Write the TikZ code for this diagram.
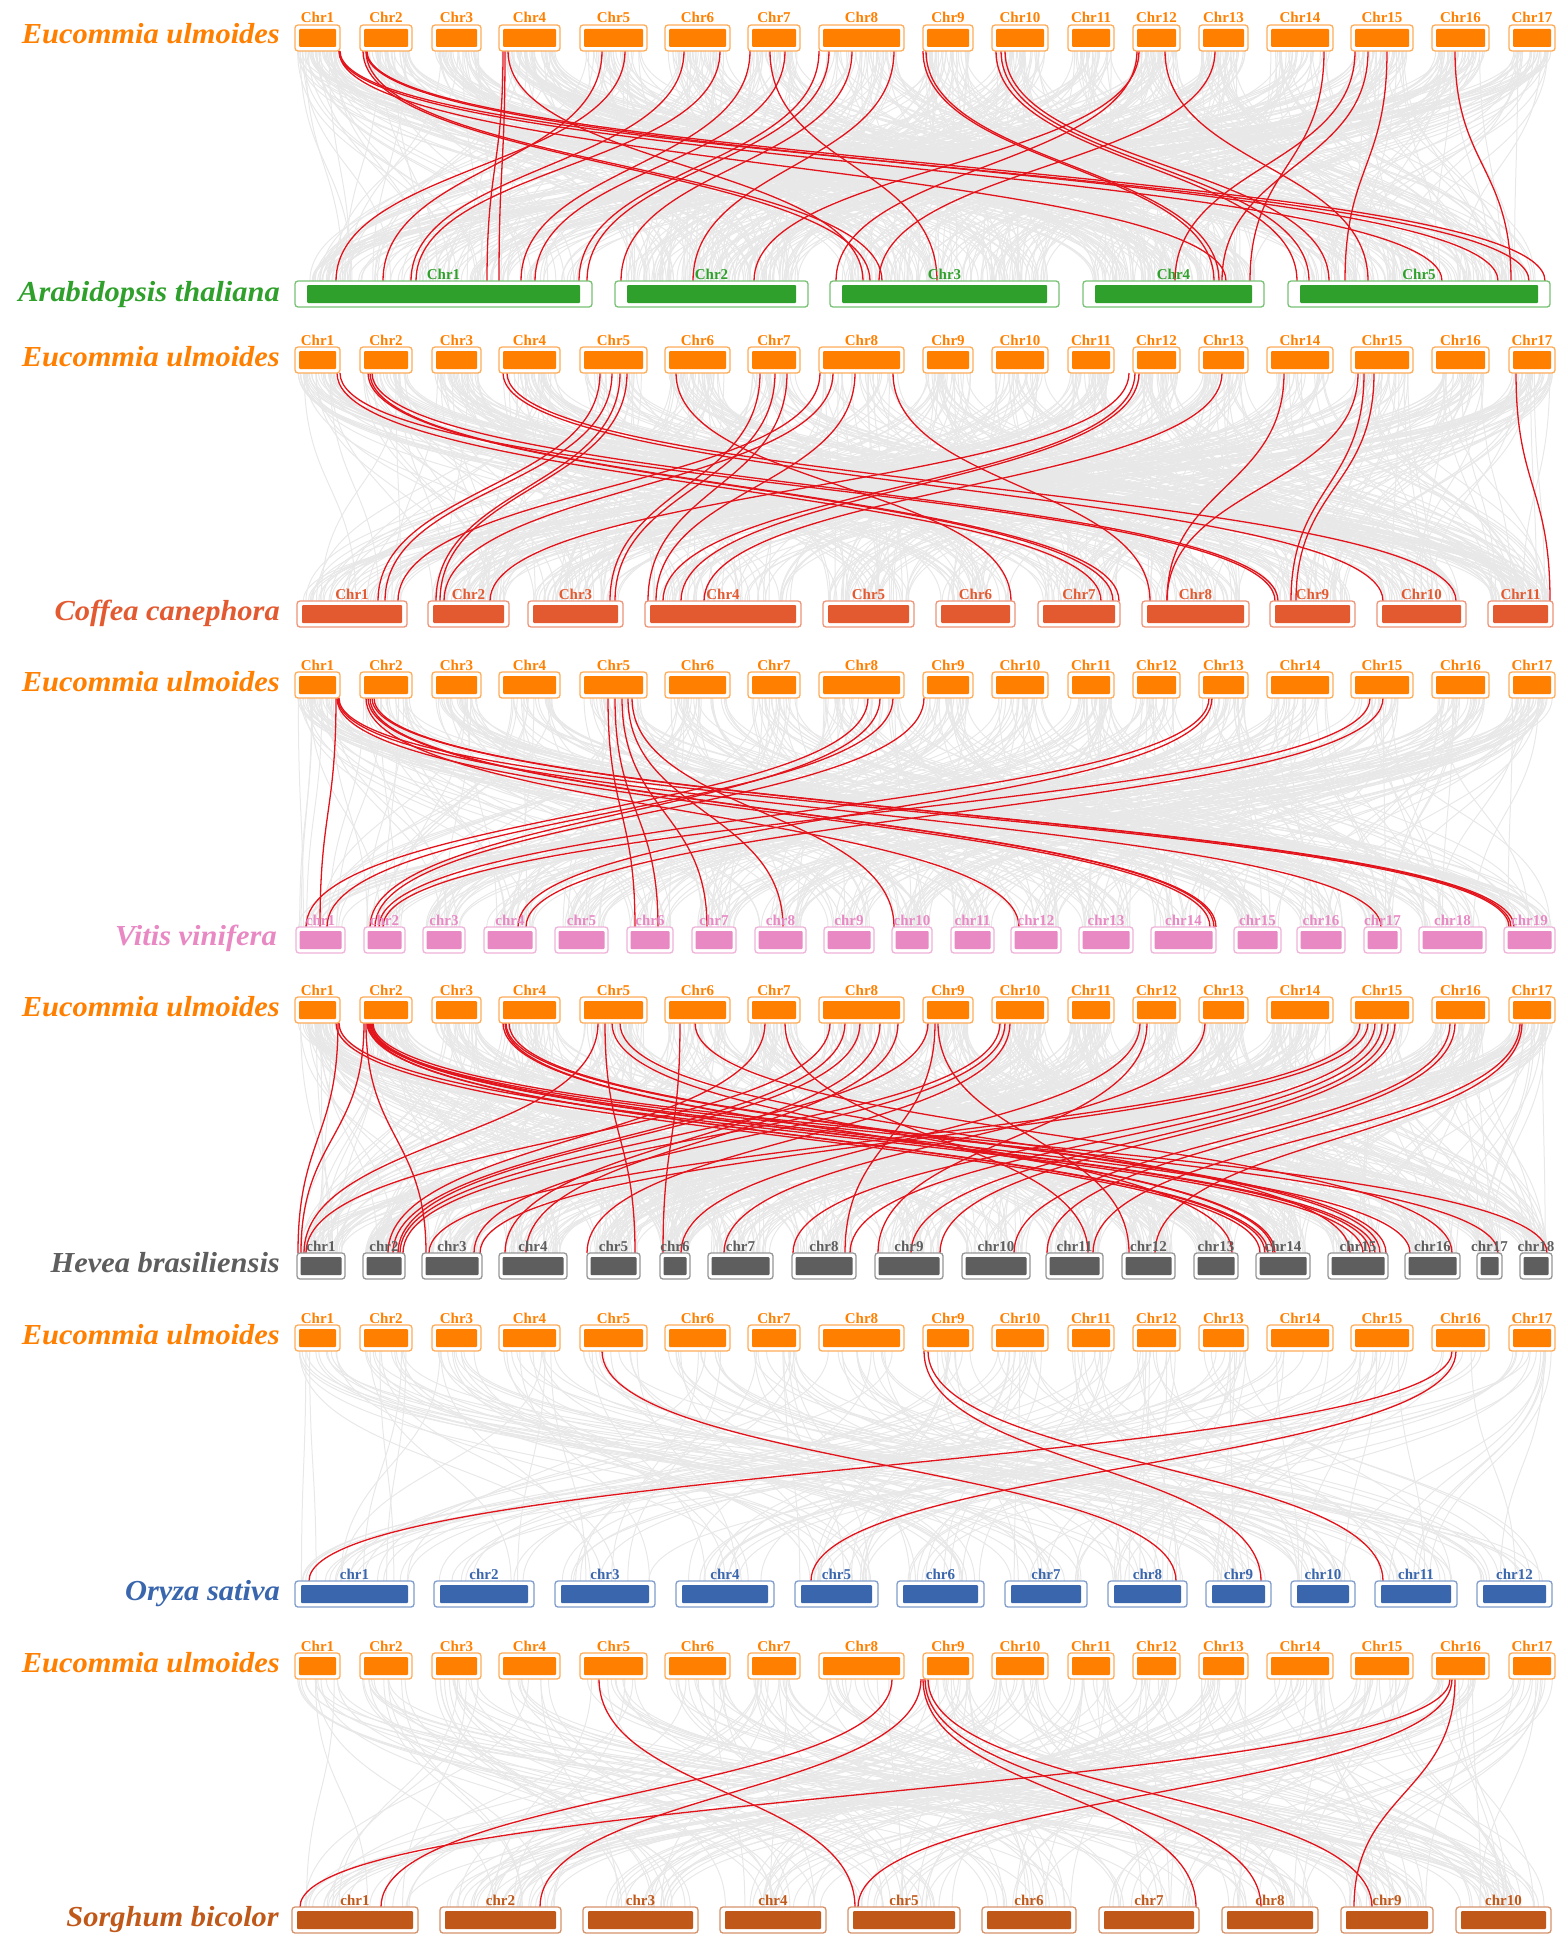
\documentclass[tikz,border=0pt]{standalone}
\usepackage{fontspec}
\setmainfont{Liberation Serif}
\usetikzlibrary{calc}
\definecolor{colEu}{HTML}{FF7F00}
\definecolor{colAt}{HTML}{2FA02B}
\definecolor{colCc}{HTML}{E35A31}
\definecolor{colVv}{HTML}{E889C4}
\definecolor{colHb}{HTML}{5E5E5E}
\definecolor{colOs}{HTML}{3A66AD}
\definecolor{colSb}{HTML}{C0581A}
\definecolor{colRed}{HTML}{E3131B}
\definecolor{colGray}{HTML}{E8E8E8}
\pgfdeclarelayer{glayer}
\pgfdeclarelayer{rlayer}
\pgfsetlayers{glayer,rlayer,main}
\tikzset{
 chrout/.style={draw=#1!65!white, line width=1.3pt, rounded corners=3pt, fill=white, minimum height=26pt, inner sep=0pt, outer sep=0pt},
 chrlab/.style={font=\fontsize{15}{16}\selectfont\bfseries, inner sep=0pt},
 splab/.style={font=\fontsize{29}{32}\selectfont\bfseries\itshape, inner sep=0pt, anchor=base east},
 redlink/.style={draw=colRed, line width=1.3pt},
 graylink/.style={draw=colGray, line width=1pt},
}
% #1 prefix, #2 colour, #3 top y, #4 inner inset, #5 list macro
\newcommand{\chrrow}[5]{%
 \foreach \L/\R/\lab [count=\n] in #5 {
   \node[chrout=#2, minimum width={\R-\L}, anchor=north west] (#1\n) at (\L,#3) {};
   \fill[#2, rounded corners=1pt] ([xshift=#4pt,yshift=-4pt]#1\n.north west) rectangle ([xshift=-#4pt,yshift=4pt]#1\n.south east);
   \node[chrlab, text=#2, anchor=base] (#1\n l) at ([yshift=2pt]#1\n.north) {\lab};
 }
}
% red links: #1 top node, #2 bottom node, #3 list of xtop/xbottom
\newcommand{\rlinks}[3]{%
 \foreach \xa/\xb in #3 {
   \draw[redlink] let \p1=(#1.south), \p2=(#2.north) in (\xa,\y1) .. controls (\xa,{(\y1+\y2)/2}) and (\xb,{(\y1+\y2)/2}) .. (\xb,\y2);
 }
}
% gray links: #1 top prefix, #2 n top, #3 bottom prefix, #4 n bottom, #5 count
\newcommand{\glinks}[5]{%
 \foreach \k in {1,...,#5} {
   \pgfmathtruncatemacro\ia{random(1,#2)}
   \pgfmathtruncatemacro\ib{random(1,#4)}
   \pgfmathsetmacro\fa{0.05+0.9*rnd}
   \pgfmathsetmacro\fb{0.05+0.9*rnd}
   \draw[graylink] let \p1=($(#1\ia.south west)!\fa!(#1\ia.south east)$), \p2=($(#3\ib.north west)!\fb!(#3\ib.north east)$) in (\p1) .. controls (\x1,{(\y1+\y2)/2}) and (\x2,{(\y1+\y2)/2}) .. (\p2);
 }
}
\def\EuList{295/340/Chr1, 360/412/Chr2, 432/481/Chr3, 499/560/Chr4, 580/647/Chr5, 665/730/Chr6, 748/800/Chr7, 819/904/Chr8, 923/973/Chr9, 992/1048/Chr10, 1068/1114/Chr11, 1133/1180/Chr12, 1199/1248/Chr13, 1267/1333/Chr14, 1351/1413/Chr15, 1432/1489/Chr16, 1509/1555/Chr17}
\def\AtList{295/592/Chr1, 615/808/Chr2, 830/1059/Chr3, 1083/1264/Chr4, 1288/1550/Chr5}
\def\CcList{297/407/Chr1, 428/509/Chr2, 528/623/Chr3, 645/801/Chr4, 823/914/Chr5, 936/1015/Chr6, 1038/1120/Chr7, 1142/1249/Chr8, 1270/1355/Chr9, 1377/1466/Chr10, 1488/1553/Chr11}
\def\VvList{296/345/chr1, 364/405/chr2, 423/465/chr3, 484/536/chr4, 555/608/chr5, 627/673/chr6, 692/736/chr7, 755/806/chr8, 824/874/chr9, 892/932/chr10, 951/994/chr11, 1011/1061/chr12, 1079/1133/chr13, 1151/1216/chr14, 1234/1281/chr15, 1297/1345/chr16, 1364/1401/chr17, 1419/1486/chr18, 1504/1555/chr19}
\def\HbList{297/345/chr1, 363/405/chr2, 422/482/chr3, 499/567/chr4, 587/640/chr5, 660/690/chr6, 708/773/chr7, 792/856/chr8, 875/943/chr9, 962/1030/chr10, 1046/1103/chr11, 1122/1175/chr12, 1194/1238/chr13, 1256/1310/chr14, 1328/1388/chr15, 1405/1460/chr16, 1477/1502/chr17, 1520/1552/chr18}
\def\OsList{295/414/chr1, 434/534/chr2, 555/655/chr3, 676/774/chr4, 795/878/chr5, 897/984/chr6, 1005/1087/chr7, 1108/1187/chr8, 1206/1271/chr9, 1291/1355/chr10, 1375/1457/chr11, 1477/1552/chr12}
\def\SbList{292/418/chr1, 440/561/chr2, 583/698/chr3, 720/826/chr4, 848/960/chr5, 982/1076/chr6, 1099/1199/chr7, 1222/1318/chr8, 1341/1433/chr9, 1456/1551/chr10}
% red link lists (x on top row / x on bottom row)
\def\PA{339/1226, 339/1442, 340/1529, 363/870, 366/882, 366/1498, 367/1545, 503/487, 505/499, 508/863, 602/383, 625/336, 684/411, 720/416, 750/521, 770/937, 785/535, 819/579, 829/587, 852/621, 894/693, 923/1214, 926/1219, 996/1297, 1001/1309, 1005/1329, 1137/836, 1139/754, 1165/1368, 1215/879, 1324/1250, 1355/1175, 1368/1222, 1387/1345, 1455/1511}
\def\PB{337/1101, 340/1275, 368/1113, 370/1119, 372/1278, 503/1383, 507/1456, 600/378, 612/385, 620/436, 627/440, 676/1011, 760/610, 775/615, 787/648, 820/398, 833/444, 855/656, 893/1150, 1129/490, 1135/663, 1139/681, 1222/704, 1284/1167, 1358/1167, 1364/1291, 1374/1296, 1516/1550}
\def\PC{336/320, 337/1210, 338/1381, 339/1509, 366/1019, 368/1214, 370/1216, 372/1511, 374/1514, 608/635, 615/658, 622/707, 628/783, 632/894, 868/306, 893/327, 880/370, 924/375, 1209/379, 1212/518, 1370/383, 1383/526}
\def\PD{338/298, 336/1260, 339/1363, 364/301, 366/426, 368/1265, 369/1268, 370/1370, 371/1375, 372/1410, 373/1547, 367/1498, 503/1273, 506/1380, 509/1386, 505/1275, 598/304, 605/635, 612/1232, 620/1350, 680/663, 695/1452, 765/388, 785/1088, 830/306, 845/393, 860/398, 880/505, 898/526, 928/400, 935/845, 938/1129, 1000/403, 1005/474, 1010/587, 1140/681, 1147/878, 1205/724, 1360/429, 1368/480, 1375/793, 1382/850, 1388/911, 1395/940, 1450/1014, 1455/1047, 1520/1093, 1522/1155}
\def\PE{602/1176, 924/1261, 928/1383, 1452/309, 1456/811}
\def\PF{599/855, 892/381, 921/540, 923/1196, 925/1261, 928/1372, 1450/300, 1452/858, 1455/1354}
\begin{document}
\begin{tikzpicture}[x=1pt,y=-1pt]
\useasboundingbox (0,0) rectangle (1564,1945);
% chromosome rows
\chrrow{ea}{colEu}{25}{4}{\EuList}
\chrrow{at}{colAt}{281}{12}{\AtList}
\chrrow{eb}{colEu}{347}{4}{\EuList}
\chrrow{cc}{colCc}{601}{5}{\CcList}
\chrrow{ec}{colEu}{672}{4}{\EuList}
\chrrow{vv}{colVv}{927}{3.5}{\VvList}
\chrrow{ed}{colEu}{997}{4}{\EuList}
\chrrow{hb}{colHb}{1253}{3.5}{\HbList}
\chrrow{ee}{colEu}{1325}{4}{\EuList}
\chrrow{os}{colOs}{1581}{6}{\OsList}
\chrrow{ef}{colEu}{1653}{4}{\EuList}
\chrrow{sb}{colSb}{1907}{5}{\SbList}
% species names
\node[splab, text=colEu] (nEa) at (280,44) {\scalebox{1.05}[1]{Eucommia ulmoides}};
\node[splab, text=colAt] (nAt) at (280,301) {\scalebox{1.05}[1]{Arabidopsis thaliana}};
\node[splab, text=colEu] (nEb) at (280,366) {\scalebox{1.05}[1]{Eucommia ulmoides}};
\node[splab, text=colCc] (nCc) at (280,620) {\scalebox{1.05}[1]{Coffea canephora}};
\node[splab, text=colEu] (nEc) at (280,691) {\scalebox{1.05}[1]{Eucommia ulmoides}};
\node[splab, text=colVv] (nVv) at (277,945) {\scalebox{1.05}[1]{Vitis vinifera}};
\node[splab, text=colEu] (nEd) at (280,1016) {\scalebox{1.05}[1]{Eucommia ulmoides}};
\node[splab, text=colHb] (nHb) at (280,1272) {\scalebox{1.05}[1]{Hevea brasiliensis}};
\node[splab, text=colEu] (nEe) at (280,1344) {\scalebox{1.05}[1]{Eucommia ulmoides}};
\node[splab, text=colOs] (nOs) at (280,1600) {\scalebox{1.05}[1]{Oryza sativa}};
\node[splab, text=colEu] (nEf) at (280,1672) {\scalebox{1.05}[1]{Eucommia ulmoides}};
\node[splab, text=colSb] (nSb) at (279,1926) {\scalebox{1.05}[1]{Sorghum bicolor}};
% background links
\pgfmathsetseed{7}
\begin{pgfonlayer}{glayer}
\glinks{ea}{17}{at}{5}{700}
\glinks{eb}{17}{cc}{11}{600}
\glinks{ec}{17}{vv}{19}{500}
\glinks{ed}{17}{hb}{18}{800}
\glinks{ee}{17}{os}{12}{220}
\glinks{ef}{17}{sb}{10}{280}
\end{pgfonlayer}
% highlighted links
\begin{pgfonlayer}{rlayer}
\rlinks{ea1}{at1}{\PA}
\rlinks{eb1}{cc1}{\PB}
\rlinks{ec1}{vv1}{\PC}
\rlinks{ed1}{hb1}{\PD}
\rlinks{ee1}{os1}{\PE}
\rlinks{ef1}{sb1}{\PF}
\end{pgfonlayer}
\end{tikzpicture}
\end{document}
